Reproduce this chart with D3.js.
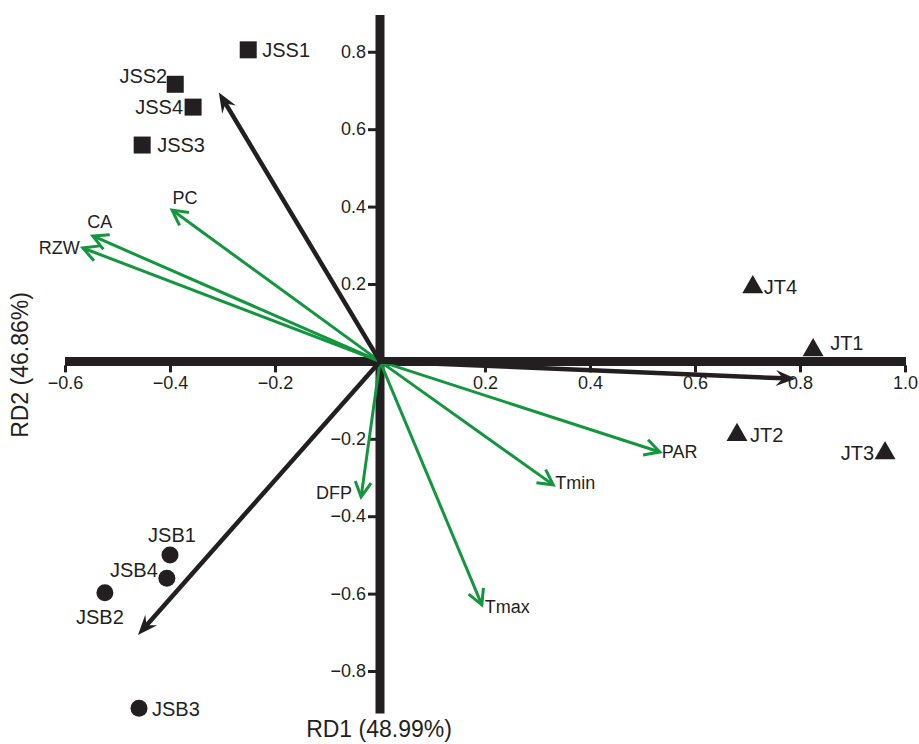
<!DOCTYPE html>
<html>
<head>
<meta charset="utf-8">
<script src="https://cdn.jsdelivr.net/npm/d3@7"></script>
<style>
  html, body { margin: 0; padding: 0; background: #fff; }
  svg { display: block; font-family: "Liberation Sans", Arial, sans-serif; }
</style>
</head>
<body>
<svg id="chart" width="919" height="744"></svg>
<script>
// Sample scores on the first two RDA axes
const siteNames = ["JSS1", "JSS2", "JSS3", "JSS4", "JSB1", "JSB2", "JSB3", "JSB4", "JT1", "JT2", "JT3", "JT4"];
const siteGroup = ["JSS", "JSS", "JSS", "JSS", "JSB", "JSB", "JSB", "JSB", "JT", "JT", "JT", "JT"];
const siteRD1 = [-0.251, -0.390, -0.453, -0.356, -0.400, -0.524, -0.459, -0.406, 0.825, 0.680, 0.962, 0.710];
const siteRD2 = [0.805, 0.716, 0.559, 0.657, -0.500, -0.598, -0.896, -0.560, 0.029, -0.190, -0.237, 0.192];

// Group vectors (black arrows)
const groupRD1 = [-0.307, -0.461, 0.792];
const groupRD2 = [0.695, -0.707, -0.045];

// Explanatory variable vectors (green arrows)
const envNames = ["PC", "CA", "RZW", "DFP", "Tmin", "Tmax", "PAR"];
const envRD1 = [-0.396, -0.547, -0.566, -0.036, 0.330, 0.194, 0.533];
const envRD2 = [0.391, 0.324, 0.293, -0.350, -0.319, -0.629, -0.234];

// Axis ticks and titles
const xTicks = [-0.6, -0.4, -0.2, 0.2, 0.4, 0.6, 0.8, 1.0];
const yTicks = [0.8, 0.6, 0.4, 0.2, -0.2, -0.4, -0.6, -0.8];
const xTitle = "RD1 (48.99%)";
const yTitle = "RD2 (46.86%)";

// ---- layout ----
const ink = "#231f20";
const green = "#14963f";

const x = d3.scaleLinear().domain([-0.6, 1.0]).range([65, 905]);
const y = d3.scaleLinear().domain([-0.91, 0.895]).range([713.6, 15.0]);

const svg = d3.select("#chart");

// label placement around each sample marker: [dx, dy, anchor]
const siteLabelPos = {
  JSS1: [14, 7, "start"], JSS2: [-8, -1, "end"], JSS3: [15, 7, "start"], JSS4: [-10, 7, "end"],
  JSB1: [2, -13, "middle"], JSB2: [-5, 31, "middle"], JSB3: [13, 8, "start"], JSB4: [-9, -1, "end"],
  JT1: [17, 0, "start"], JT2: [13, 7, "start"], JT3: [-11, 7, "end"], JT4: [11, 7, "start"]
};
// label placement at each green arrow tip
const envLabelPos = {
  PC: [13, -6, "middle"], CA: [7, -8, "middle"], RZW: [-3, 6, "end"], DFP: [-9, 2, "end"],
  Tmin: [2, 4, "start"], Tmax: [3, 8, "start"], PAR: [2, 6, "start"]
};

const x0 = x(0), y0 = y(0);

// ---- axes (thick cross through the origin) ----
const axes = svg.append("g");
axes.append("line")
  .attr("x1", x.range()[0]).attr("x2", x.range()[1] + 1)
  .attr("y1", y0).attr("y2", y0)
  .attr("stroke", ink).attr("stroke-width", 9);
axes.append("line")
  .attr("x1", x0).attr("x2", x0)
  .attr("y1", y.range()[1]).attr("y2", y.range()[0])
  .attr("stroke", ink).attr("stroke-width", 9);

const xAxis = svg.append("g")
  .attr("transform", `translate(0,${y0 + 4})`)
  .call(d3.axisBottom(x).tickValues(xTicks).tickSize(7).tickPadding(4)
    .tickFormat(d => d3.format(".1f")(d)));
xAxis.select(".domain").remove();
xAxis.selectAll(".tick line").attr("stroke", ink).attr("stroke-width", 3);
xAxis.selectAll(".tick text").attr("fill", ink).style("font-size", "18px")
  .style("font-family", "'Liberation Sans', Arial, sans-serif");

const yAxis = svg.append("g")
  .attr("transform", `translate(${x0 - 4},0)`)
  .call(d3.axisLeft(y).tickValues(yTicks).tickSize(8).tickPadding(2)
    .tickFormat(d => d3.format(".1f")(d)));
yAxis.select(".domain").remove();
yAxis.selectAll(".tick line").attr("stroke", ink).attr("stroke-width", 3);
yAxis.selectAll(".tick text").attr("fill", ink).style("font-size", "18px")
  .style("font-family", "'Liberation Sans', Arial, sans-serif");

svg.append("text")
  .attr("x", 379).attr("y", 737)
  .attr("text-anchor", "middle").attr("fill", ink)
  .style("font-size", "23px")
  .text(xTitle);
svg.append("text")
  .attr("transform", "translate(28,365) rotate(-90)")
  .attr("text-anchor", "middle").attr("fill", ink)
  .style("font-size", "23px")
  .text(yTitle);

// ---- arrows ----
function rot(px, py, a) {
  return [px * Math.cos(a) - py * Math.sin(a), px * Math.sin(a) + py * Math.cos(a)];
}

// green variable vectors with open chevron heads
const envG = svg.append("g");
envNames.forEach((name, i) => {
  const tx = x(envRD1[i]), ty = y(envRD2[i]);
  const a = Math.atan2(ty - y0, tx - x0);
  envG.append("line")
    .attr("x1", x0).attr("y1", y0).attr("x2", tx).attr("y2", ty)
    .attr("stroke", green).attr("stroke-width", 3);
  const l = rot(-15, -8, a), r = rot(-15, 8, a);
  envG.append("path")
    .attr("d", `M${tx + l[0]},${ty + l[1]}L${tx},${ty}L${tx + r[0]},${ty + r[1]}`)
    .attr("fill", "none").attr("stroke", green).attr("stroke-width", 3)
    .attr("stroke-linejoin", "miter");
  const p = envLabelPos[name];
  envG.append("text")
    .attr("x", tx + p[0]).attr("y", ty + p[1])
    .attr("text-anchor", p[2]).attr("fill", ink)
    .style("font-size", "18px")
    .text(name);
});

// black group vectors with barbed filled heads
const grpG = svg.append("g");
groupRD1.forEach((v, i) => {
  const tx = x(v), ty = y(groupRD2[i]);
  const a = Math.atan2(ty - y0, tx - x0);
  const n = rot(-12, 0, a);
  grpG.append("line")
    .attr("x1", x0).attr("y1", y0).attr("x2", tx + n[0]).attr("y2", ty + n[1])
    .attr("stroke", ink).attr("stroke-width", 4.5);
  const pts = [[0, 0], [-20, -8], [-13, 0], [-20, 8]].map(q => {
    const r = rot(q[0], q[1], a);
    return [tx + r[0], ty + r[1]];
  });
  grpG.append("path")
    .attr("d", "M" + pts.map(q => q.join(",")).join("L") + "Z")
    .attr("fill", ink);
});

// ---- sample markers ----
const symbolFor = { JSS: d3.symbolSquare, JSB: d3.symbolCircle, JT: d3.symbolTriangle };
const sizeFor = { JSS: 17 * 17, JSB: Math.PI * 8.5 * 8.5, JT: 190 };
const siteG = svg.append("g");
siteNames.forEach((name, i) => {
  const cx = x(siteRD1[i]), cy = y(siteRD2[i]);
  const g = siteGroup[i];
  siteG.append("path")
    .attr("d", d3.symbol().type(symbolFor[g]).size(sizeFor[g])())
    .attr("transform", `translate(${cx},${cy})`)
    .attr("fill", ink);
  const p = siteLabelPos[name];
  siteG.append("text")
    .attr("x", cx + p[0]).attr("y", cy + p[1])
    .attr("text-anchor", p[2]).attr("fill", ink)
    .style("font-size", "20px")
    .text(name);
});
</script>
</body>
</html>
